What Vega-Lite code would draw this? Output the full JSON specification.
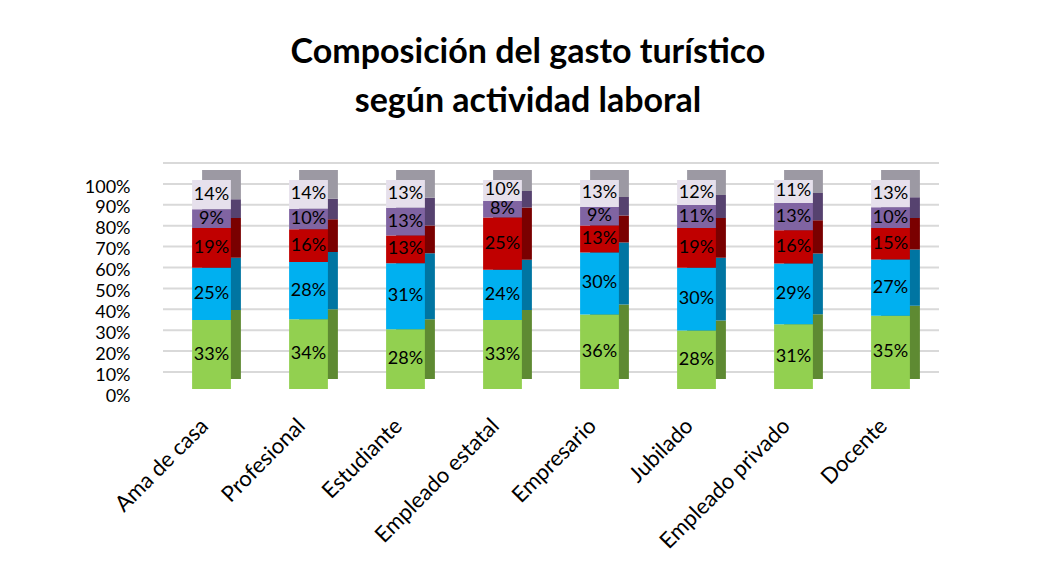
{
  "$schema": "https://vega.github.io/schema/vega-lite/v6.json",
  "width": 776,
  "height": 209,
  "autosize": "none",
  "padding": {"left": 163, "top": 180, "right": 98, "bottom": 189},
  "background": "white",
  "config": {
    "view": {"stroke": null},
    "font": "Lato",
    "axisY": {
      "labelFontSize": 18,
      "labelFont": "Lato",
      "labelColor": "black",
      "labelPadding": 33,
      "labelOffset": 7,
      "labelOverlap": false,
      "ticks": false,
      "domain": false,
      "grid": false,
      "title": null
    }
  },
  "title": {
    "text": ["Composición del gasto turístico", "según actividad laboral"],
    "fontSize": 34,
    "fontWeight": "bold",
    "font": "Lato",
    "color": "black",
    "lineHeight": 49,
    "anchor": "middle",
    "dx": -23,
    "offset": 43
  },
  "datasets": {
    "gasto": [
      {"actividad": "Ama de casa", "componente": "C1", "orden": 1, "v": 0.33},
      {"actividad": "Ama de casa", "componente": "C2", "orden": 2, "v": 0.25},
      {"actividad": "Ama de casa", "componente": "C3", "orden": 3, "v": 0.19},
      {"actividad": "Ama de casa", "componente": "C4", "orden": 4, "v": 0.09},
      {"actividad": "Ama de casa", "componente": "C5", "orden": 5, "v": 0.14},
      {"actividad": "Profesional", "componente": "C1", "orden": 1, "v": 0.34},
      {"actividad": "Profesional", "componente": "C2", "orden": 2, "v": 0.28},
      {"actividad": "Profesional", "componente": "C3", "orden": 3, "v": 0.16},
      {"actividad": "Profesional", "componente": "C4", "orden": 4, "v": 0.10},
      {"actividad": "Profesional", "componente": "C5", "orden": 5, "v": 0.14},
      {"actividad": "Estudiante", "componente": "C1", "orden": 1, "v": 0.28},
      {"actividad": "Estudiante", "componente": "C2", "orden": 2, "v": 0.31},
      {"actividad": "Estudiante", "componente": "C3", "orden": 3, "v": 0.13},
      {"actividad": "Estudiante", "componente": "C4", "orden": 4, "v": 0.13},
      {"actividad": "Estudiante", "componente": "C5", "orden": 5, "v": 0.13},
      {"actividad": "Empleado estatal", "componente": "C1", "orden": 1, "v": 0.33},
      {"actividad": "Empleado estatal", "componente": "C2", "orden": 2, "v": 0.24},
      {"actividad": "Empleado estatal", "componente": "C3", "orden": 3, "v": 0.25},
      {"actividad": "Empleado estatal", "componente": "C4", "orden": 4, "v": 0.08},
      {"actividad": "Empleado estatal", "componente": "C5", "orden": 5, "v": 0.10},
      {"actividad": "Empresario", "componente": "C1", "orden": 1, "v": 0.36},
      {"actividad": "Empresario", "componente": "C2", "orden": 2, "v": 0.30},
      {"actividad": "Empresario", "componente": "C3", "orden": 3, "v": 0.13},
      {"actividad": "Empresario", "componente": "C4", "orden": 4, "v": 0.09},
      {"actividad": "Empresario", "componente": "C5", "orden": 5, "v": 0.13},
      {"actividad": "Jubilado", "componente": "C1", "orden": 1, "v": 0.28},
      {"actividad": "Jubilado", "componente": "C2", "orden": 2, "v": 0.30},
      {"actividad": "Jubilado", "componente": "C3", "orden": 3, "v": 0.19},
      {"actividad": "Jubilado", "componente": "C4", "orden": 4, "v": 0.11},
      {"actividad": "Jubilado", "componente": "C5", "orden": 5, "v": 0.12},
      {"actividad": "Empleado privado", "componente": "C1", "orden": 1, "v": 0.31},
      {"actividad": "Empleado privado", "componente": "C2", "orden": 2, "v": 0.29},
      {"actividad": "Empleado privado", "componente": "C3", "orden": 3, "v": 0.16},
      {"actividad": "Empleado privado", "componente": "C4", "orden": 4, "v": 0.13},
      {"actividad": "Empleado privado", "componente": "C5", "orden": 5, "v": 0.11},
      {"actividad": "Docente", "componente": "C1", "orden": 1, "v": 0.35},
      {"actividad": "Docente", "componente": "C2", "orden": 2, "v": 0.27},
      {"actividad": "Docente", "componente": "C3", "orden": 3, "v": 0.15},
      {"actividad": "Docente", "componente": "C4", "orden": 4, "v": 0.10},
      {"actividad": "Docente", "componente": "C5", "orden": 5, "v": 0.13}
    ],
    "rejilla": [
      {"g": 0}, {"g": 0.1}, {"g": 0.2}, {"g": 0.3}, {"g": 0.4}, {"g": 0.5},
      {"g": 0.6}, {"g": 0.7}, {"g": 0.8}, {"g": 0.9}, {"g": 1}
    ]
  },
  "layer": [
    {
      "data": {"name": "rejilla"},
      "mark": {"type": "rule", "yOffset": -17, "color": "#d9d9d9", "strokeWidth": 2},
      "encoding": {
        "y": {
          "field": "g",
          "type": "quantitative",
          "title": null,
          "scale": {"domain": [0, 1]},
          "axis": {
            "values": [0, 0.1, 0.2, 0.3, 0.4, 0.5, 0.6, 0.7, 0.8, 0.9, 1],
            "format": ".0%"
          }
        }
      }
    },
    {
      "data": {"name": "gasto"},
      "encoding": {
        "x": {
          "field": "actividad",
          "type": "nominal",
          "sort": null,
          "title": null,
          "scale": {"paddingInner": 0.6, "paddingOuter": 0.3},
          "axis": {
            "labelAngle": -45,
            "labelAlign": "right",
            "labelBaseline": "middle",
            "labelFontSize": 22,
            "labelFont": "Lato",
            "labelColor": "black",
            "labelPadding": 33,
            "labelOffset": -7,
            "labelOverlap": false,
            "ticks": false,
            "domain": false,
            "grid": false
          }
        },
        "y": {
          "field": "v",
          "type": "quantitative",
          "stack": "normalize",
          "title": null,
          "axis": {
            "values": [0, 0.1, 0.2, 0.3, 0.4, 0.5, 0.6, 0.7, 0.8, 0.9, 1],
            "format": ".0%"
          }
        },
        "order": {"field": "orden", "type": "quantitative"}
      },
      "layer": [
        {
          "mark": {"type": "bar", "xOffset": 10, "yOffset": -10, "y2Offset": -10},
          "encoding": {
            "color": {
              "field": "componente",
              "type": "nominal",
              "legend": null,
              "scale": {
                "domain": ["C1", "C2", "C3", "C4", "C5"],
                "range": ["#5e8a32", "#0075a2", "#7a0000", "#56426f", "#9c99a3"]
              }
            }
          }
        },
        {
          "mark": {"type": "bar"},
          "encoding": {
            "fill": {
              "field": "componente",
              "type": "nominal",
              "legend": null,
              "scale": {
                "domain": ["C1", "C2", "C3", "C4", "C5"],
                "range": ["#92d050", "#00b0f0", "#c00000", "#8064a2", "#e6e0ec"]
              }
            }
          }
        },
        {
          "mark": {"type": "text", "fontSize": 18, "font": "Lato", "color": "black", "baseline": "middle"},
          "encoding": {
            "y": {
              "field": "v",
              "type": "quantitative",
              "stack": "normalize",
              "bandPosition": 0.5,
              "title": null,
              "axis": {
                "values": [0, 0.1, 0.2, 0.3, 0.4, 0.5, 0.6, 0.7, 0.8, 0.9, 1],
                "format": ".0%"
              }
            },
            "text": {"field": "v", "type": "quantitative", "format": ".0%"}
          }
        }
      ]
    }
  ]
}
